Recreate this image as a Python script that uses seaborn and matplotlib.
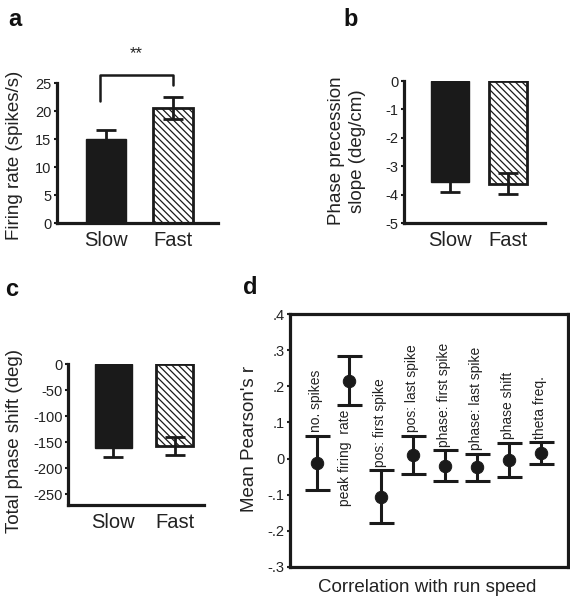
import numpy as np
import pandas as pd
import matplotlib
matplotlib.use("Agg")
import matplotlib.pyplot as plt
import seaborn as sns

# ---- data ----
conditions = ["Slow", "Fast"]
rate_mean = [15.0, 20.5]
rate_err = [1.6, 2.0]
slope_mean = [-3.55, -3.62]
slope_err = [0.35, 0.37]
shift_mean = [-162.0, -157.0]
shift_err = [17.0, 17.0]

measures = ["no. spikes", "peak firing  rate", "pos: first spike", "pos: last spike",
            "phase: first spike", "phase: last spike", "phase shift", "theta freq."]
r_mean = [-0.012, 0.215, -0.105, 0.010, -0.020, -0.024, -0.004, 0.015]
r_err = [0.075, 0.068, 0.072, 0.053, 0.043, 0.037, 0.048, 0.030]

sns.set_style("white")
plt.rcParams["font.family"] = ["Liberation Sans", "DejaVu Sans"]
plt.rcParams["hatch.linewidth"] = 0.9
plt.rcParams["axes.unicode_minus"] = False

W, H = 570, 599
fig = plt.figure(figsize=(W / 100, H / 100), dpi=100)

TICK_FS = 10.5
LABEL_FS = 13.5


def add_ax(l, r, t, b):
    return fig.add_axes([l / W, 1 - b / H, (r - l) / W, (b - t) / H])


def bar_panel(ax, means, errs, width, ylim, xlim, yticks):
    df = pd.DataFrame({"cond": conditions, "val": means})
    sns.barplot(data=df, x="cond", y="val", ax=ax, errorbar=None, width=width,
                color="#1a1a1a", saturation=1)
    patches = ax.patches
    patches[0].set_facecolor("#1a1a1a")
    patches[0].set_edgecolor("#1a1a1a")
    patches[1].set_facecolor("white")
    patches[1].set_edgecolor("#1a1a1a")
    patches[1].set_hatch("\\\\\\\\\\")
    patches[1].set_linewidth(2)
    ax.errorbar(x=[0, 1], y=means, yerr=errs, fmt="none", ecolor="#1a1a1a",
                elinewidth=2, capsize=7, capthick=2, zorder=5)
    ax.set_ylim(*ylim)
    ax.set_xlim(*xlim)
    ax.set_yticks(yticks)
    ax.set_xlabel("")
    ax.set_ylabel("")
    for s in ["top", "right"]:
        ax.spines[s].set_visible(False)
    for s in ["left", "bottom"]:
        ax.spines[s].set_linewidth(2.3)
        ax.spines[s].set_color("#1a1a1a")
    ax.tick_params(axis="y", direction="out", length=2, width=1.5, labelsize=TICK_FS,
                   pad=2, left=True, colors="#1a1a1a")
    ax.tick_params(axis="y", labelcolor="#222222")
    ax.tick_params(axis="x", length=0, labelsize=14.5, pad=6, labelcolor="#222222")


# panel a
axa = add_ax(57, 218, 83, 223)
bar_panel(axa, rate_mean, rate_err, 0.6, (0, 25), (-0.74, 1.68), [0, 5, 10, 15, 20, 25])
axa.plot([-0.09, -0.09, 1.0, 1.0], [21.7, 26.4, 26.4, 24.6], color="#1a1a1a",
         lw=1.8, clip_on=False)
axa.text(0.45, 30.2, "**", ha="center", va="center", fontsize=12, color="#222222")

# panel b
axb = add_ax(404, 545, 81, 223)
bar_panel(axb, slope_mean, slope_err, 0.655, (-5, 0), (-0.79, 1.64), [0, -1, -2, -3, -4, -5])

# panel c
axc = add_ax(68, 204, 364, 505)
bar_panel(axc, shift_mean, shift_err, 0.6, (-271, 0), (-0.73, 1.47),
          [0, -50, -100, -150, -200, -250])

# panel d
axd = add_ax(290, 568, 314, 567)
xs = np.arange(1, len(measures) + 1)
dfd = pd.DataFrame({"x": xs, "r": r_mean})
axd.errorbar(x=xs, y=r_mean, yerr=r_err, fmt="none", ecolor="#1a1a1a",
             elinewidth=2.2, capsize=9, capthick=2.2, zorder=3)
sns.scatterplot(data=dfd, x="x", y="r", ax=axd, color="#1a1a1a", s=80,
                edgecolor="#1a1a1a", zorder=4, legend=False)
for i, (x, m, e, lab) in enumerate(zip(xs, r_mean, r_err, measures)):
    if i == 1:
        axd.text(x - 0.1, m - e - 0.012, lab, rotation=90, ha="center", va="top",
                 fontsize=10, color="#222222")
    else:
        axd.text(x - 0.03, m + e + 0.01, lab, rotation=90, ha="center", va="bottom",
                 fontsize=10, color="#222222")
axd.set_xlim(0.17, 8.85)
axd.set_ylim(-0.3, 0.4)
yt = [0.4, 0.3, 0.2, 0.1, 0.0, -0.1, -0.2, -0.3]
axd.set_yticks(yt)
axd.set_yticklabels([".4", ".3", ".2", ".1", "0", "-.1", "-.2", "-.3"])
axd.set_xticks([])
axd.set_xlabel("")
axd.set_ylabel("")
for s in axd.spines.values():
    s.set_visible(True)
    s.set_linewidth(2.3)
    s.set_color("#1a1a1a")
axd.tick_params(axis="y", direction="out", length=2, width=1.5, labelsize=TICK_FS, pad=2,
                left=True, labelcolor="#222222")

# axis labels
fig.text(15 / W, 1 - 155 / H, "Firing rate (spikes/s)", rotation=90, ha="center",
         va="center", fontsize=LABEL_FS, color="#222222")
fig.text(347 / W, 1 - 151 / H, "Phase precession\nslope (deg/cm)", rotation=90,
         ha="center", va="center", fontsize=LABEL_FS, color="#222222", linespacing=1.3)
fig.text(15 / W, 1 - 441 / H, "Total phase shift (deg)", rotation=90, ha="center",
         va="center", fontsize=LABEL_FS, color="#222222")
fig.text(250 / W, 1 - 439 / H, "Mean Pearson's r", rotation=90, ha="center",
         va="center", fontsize=LABEL_FS, color="#222222")
fig.text(427 / W, 1 - 587 / H, "Correlation with run speed", ha="center",
         va="center", fontsize=LABEL_FS, color="#222222")

# panel letters
for lab, x, y in [("a", 15, 20), ("b", 351, 20), ("c", 12, 289), ("d", 250, 287)]:
    fig.text(x / W, 1 - y / H, lab, ha="center", va="center", fontsize=17,
             fontweight="bold", color="#111111")

fig.savefig("out.png", dpi=100)
